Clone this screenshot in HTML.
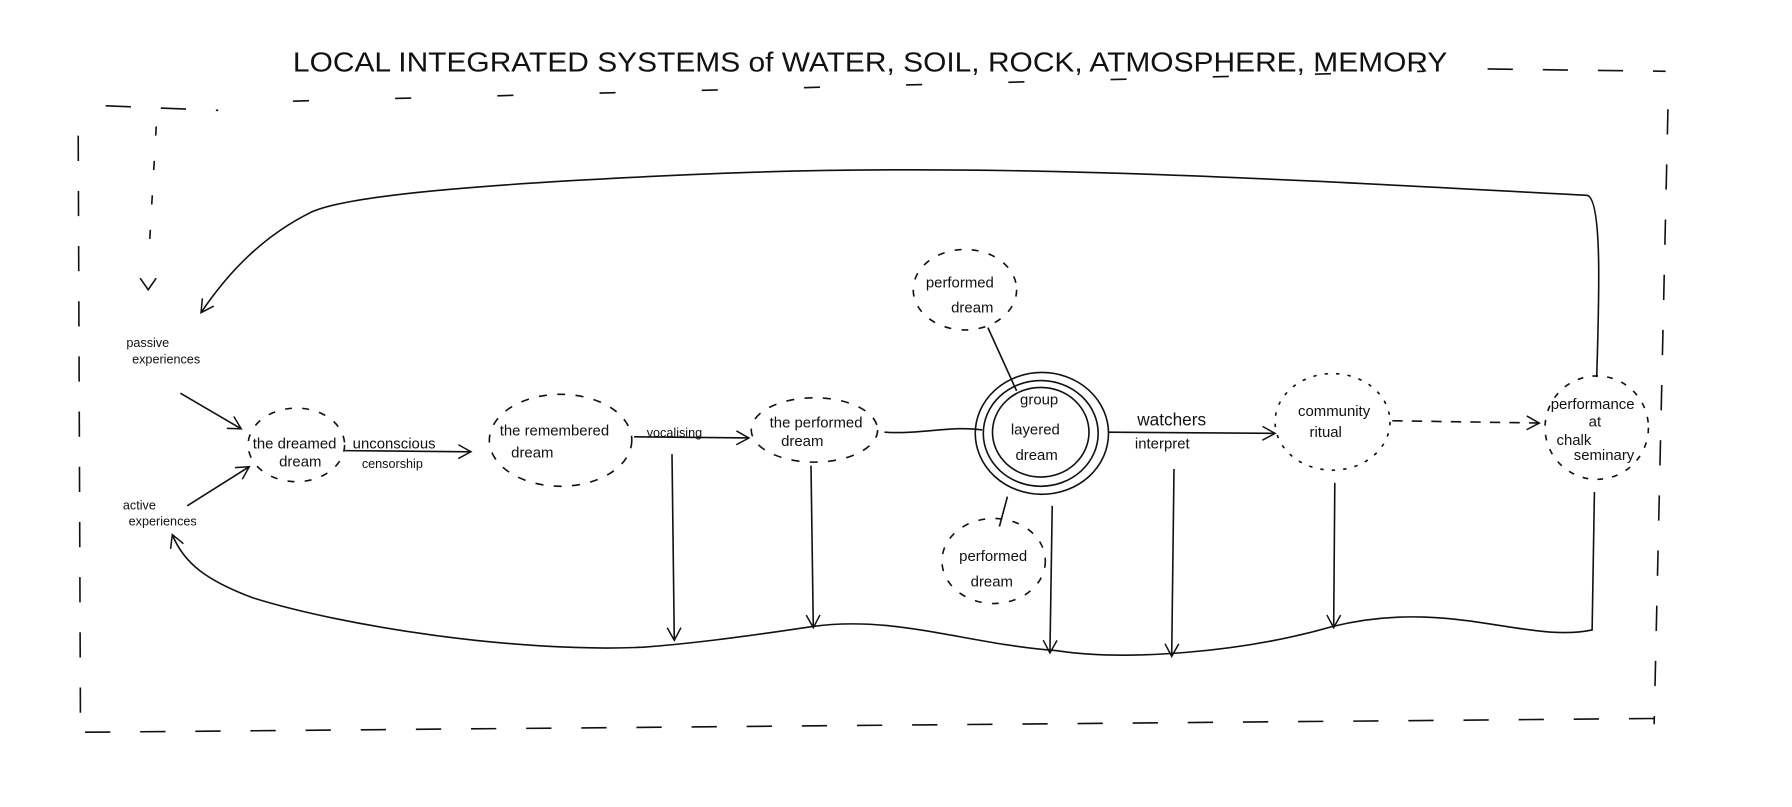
<!DOCTYPE html>
<html><head><meta charset="utf-8"><style>
html,body{margin:0;padding:0;background:#fff;}
svg{display:block;}
text{font-family:"Liberation Sans",sans-serif;fill:#111;}
</style></head><body>
<svg width="1792" height="807" viewBox="0 0 1560 702" preserveAspectRatio="none" xmlns="http://www.w3.org/2000/svg">
<defs><marker id="a" markerWidth="14" markerHeight="14" refX="12" refY="7" orient="auto" markerUnits="userSpaceOnUse"><path d="M1,1 L12,7 L1,13" fill="none" stroke="#111" stroke-width="1.3"/></marker></defs>
<g fill="none" stroke="#111" stroke-width="1.4">
<path d="M1295,60 L1450,62 M1452,95 L1440,630 M1440,625 L70,637 M70,620 L68,95 M92,92 L190,96" stroke-dasharray="22,26"/>
<path d="M136,110 L130,215" stroke-dasharray="8,22"/>
<path d="M122,242 L129,252 L136,242"/>
<path d="M255,88 L1240,62" stroke-dasharray="14,75"/>
<path d="M1390,328 C1392,260 1395,175 1382,170 C1100,155 850,140 600,152 C420,160 300,170 270,185 C230,205 200,235 175,272" marker-end="url(#a)"/>
<path d="M1388,428 L1386,548 C1330,560 1260,520 1160,545 C1080,568 980,575 920,566 C840,560 780,535 707,545 C640,555 600,560 560,563 C450,568 300,545 220,520 C180,505 160,490 150,465" marker-end="url(#a)"/>
<path d="M585,395 L587,557" marker-end="url(#a)"/>
<path d="M706,405 L708,546" marker-end="url(#a)"/>
<path d="M916,440 L914,568" marker-end="url(#a)"/>
<path d="M1022,408 L1020,571" marker-end="url(#a)"/>
<path d="M1162,420 L1161,546" marker-end="url(#a)"/>
<path d="M157,342 L210,373" marker-end="url(#a)"/>
<path d="M163,440 L217,406" marker-end="url(#a)"/>
<path d="M300,392 L410,393" marker-end="url(#a)"/>
<path d="M552,380 L652,381" marker-end="url(#a)"/>
<path d="M770,376 C800,378 830,370 855,374"/>
<path d="M965,376 L1110,377" marker-end="url(#a)"/>
<path d="M1212,366 L1340,368" stroke-dasharray="9,8" marker-end="url(#a)"/>
<path d="M860,285 L885,340 M877,432 L870,458"/>
<ellipse cx="258" cy="387" rx="42" ry="32" stroke-dasharray="6,9"/>
<ellipse cx="488" cy="383" rx="62" ry="40" stroke-dasharray="7,9"/>
<ellipse cx="709" cy="374" rx="55" ry="28" stroke-dasharray="7,9"/>
<ellipse cx="907" cy="377" rx="58" ry="53"/>
<ellipse cx="906" cy="377" rx="50" ry="46"/>
<ellipse cx="906" cy="376" rx="42" ry="39"/>
<ellipse cx="1160" cy="367" rx="50" ry="42" stroke-dasharray="3,7"/>
<ellipse cx="1390" cy="372" rx="45" ry="45" stroke-dasharray="5,8"/>
<ellipse cx="840" cy="252" rx="45" ry="35" stroke-dasharray="6,9"/>
<ellipse cx="865" cy="488" rx="45" ry="37" stroke-dasharray="6,9"/>
</g>
<g font-size="13">
<text x="255" y="62" font-size="24" textLength="1005" lengthAdjust="spacingAndGlyphs">LOCAL  INTEGRATED  SYSTEMS of WATER, SOIL, ROCK, ATMOSPHERE, MEMORY</text>
<text x="110" y="302" font-size="11">passive</text><text x="115" y="316" font-size="11">experiences</text>
<text x="107" y="443" font-size="11">active</text><text x="112" y="457" font-size="11">experiences</text>
<text x="220" y="390">the dreamed</text><text x="243" y="406">dream</text>
<text x="307" y="390">unconscious</text><text x="315" y="407" font-size="11">censorship</text>
<text x="435" y="379">the remembered</text><text x="445" y="398">dream</text>
<text x="563" y="380" font-size="11">vocalising</text>
<text x="670" y="372">the performed</text><text x="680" y="388">dream</text>
<text x="806" y="250">performed</text><text x="828" y="272">dream</text>
<text x="888" y="352">group</text><text x="880" y="378">layered</text><text x="884" y="400">dream</text>
<text x="835" y="488">performed</text><text x="845" y="510">dream</text>
<text x="990" y="370" font-size="15">watchers</text><text x="988" y="390">interpret</text>
<text x="1130" y="362">community</text><text x="1140" y="380">ritual</text>
<text x="1350" y="356">performance</text><text x="1383" y="371">at</text><text x="1355" y="387">chalk</text><text x="1370" y="400">seminary</text>
</g>
</svg>
</body></html>
